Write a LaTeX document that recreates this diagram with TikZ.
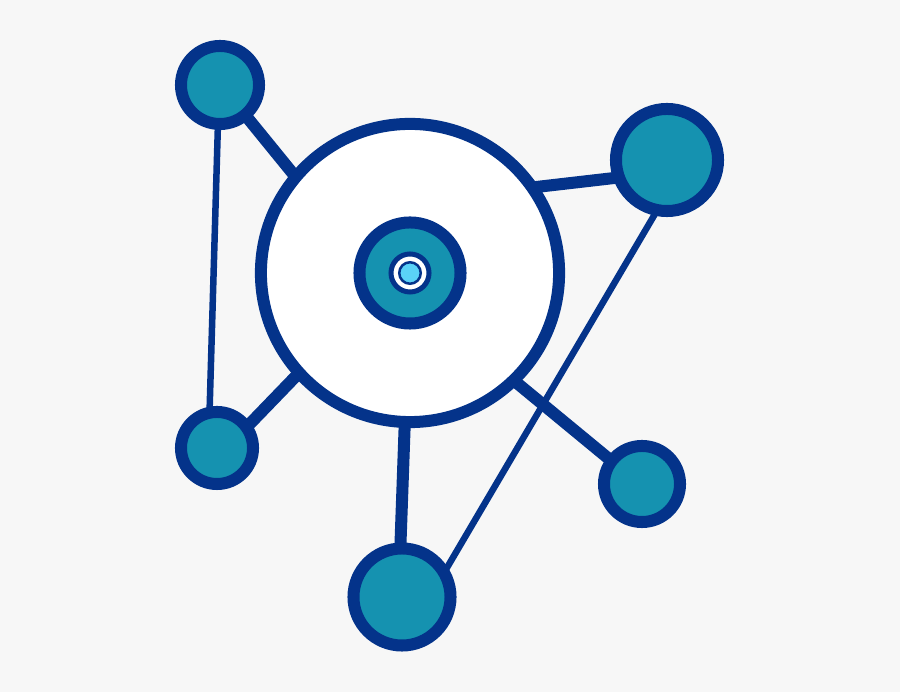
\documentclass[tikz,border=0pt]{standalone}
\usepackage{xcolor}
\usepackage{tikz}
\usetikzlibrary{backgrounds}
\definecolor{navy}{HTML}{04338A}
\definecolor{teal}{HTML}{1592B0}
\definecolor{sky}{HTML}{5AD2F7}
\definecolor{paper}{HTML}{F7F7F7}

\begin{document}
\begin{tikzpicture}[x=0.01cm, y=-0.01cm,
    sat/.style={circle, draw=navy, fill=teal, line width=0.12cm, inner sep=0pt, outer sep=0pt},
    thick link/.style={draw=navy, line width=0.12cm},
    thin link/.style={draw=navy, line width=0.065cm}]
    \useasboundingbox (0,0) rectangle (900,692);

    % hub in the middle
    \node[sat, fill=white, minimum size=2.98cm] (big) at (410,273) {};
    \node[sat, minimum size=1.01cm] (hub) at (410,273) {};
    \node[circle, draw=navy, fill=white, line width=0.05cm, inner sep=0pt, minimum size=0.38cm] (ring) at (410,273) {};
    \node[circle, draw=navy, fill=sky, line width=0.025cm, inner sep=0pt, minimum size=0.215cm] (dot) at (410,273) {};

    % satellites
    \node[sat, minimum size=0.78cm] (tl) at (220,85) {};
    \node[sat, minimum size=1.02cm] (tr) at (667,160) {};
    \node[sat, minimum size=0.72cm] (bl) at (217,448) {};
    \node[sat, minimum size=0.76cm] (br) at (642,484) {};
    \node[sat, minimum size=0.97cm] (bot) at (402,597) {};

    \begin{scope}[on background layer]
        \fill[paper] (0,0) rectangle (900,692);
        \draw[thick link] (tl.310) -- (big.140);
        \draw[thick link] (big.35) -- (tr.200);
        \draw[thick link] (big.222) -- (bl.35);
        \draw[thick link] (big.314) -- (br.143);
        \draw[thick link] (big.268) -- (bot.92);
        \draw[thin link] (tl.267) -- (bl.102);
        \draw[thin link] (tr.259) -- (bot.30);
    \end{scope}
\end{tikzpicture}
\end{document}
